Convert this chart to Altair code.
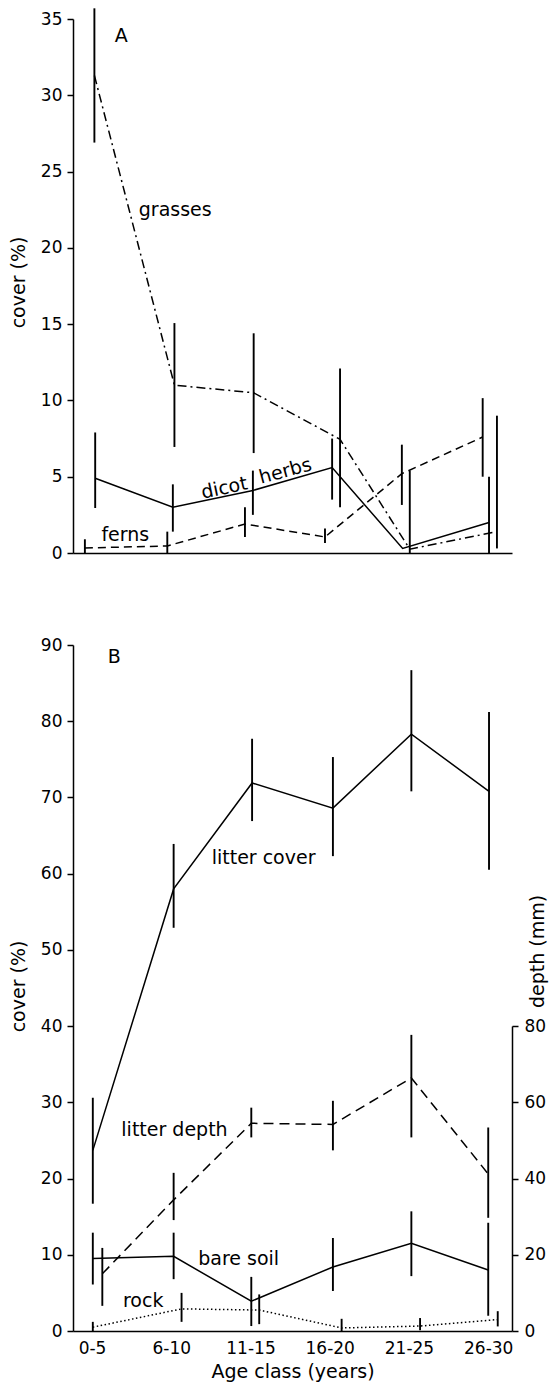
import altair as alt
import pandas as pd

ages = ["0-5", "6-10", "11-15", "16-20", "21-25", "26-30"]

# ---------------- Panel A : cover (%) ----------------
# x = position in age-class units (the points are drawn slightly staggered)
grass_x = [0.03, 1.04, 2.04, 3.13, 4.01, 5.11]
grass_mean = [31.3, 11.0, 10.5, 7.45, 0.25, 1.4]
grass_lo = [26.9, 6.95, 6.55, 3.0, 0.0, 0.3]
grass_hi = [35.7, 15.07, 14.4, 12.1, 5.4, 9.0]

dicot_x = [0.04, 1.02, 2.03, 3.03, 3.92, 5.01]
dicot_mean = [4.9, 3.0, 4.1, 5.6, 0.3, 2.0]
dicot_lo = [2.95, 1.4, 2.5, 3.5, 0.3, 0.0]
dicot_hi = [7.9, 4.5, 5.4, 7.5, 0.3, 5.0]

fern_x = [-0.09, 0.95, 1.93, 2.94, 3.91, 4.93]
fern_mean = [0.33, 0.46, 1.9, 1.05, 5.2, 7.6]
fern_lo = [0.0, 0.0, 1.05, 0.65, 3.15, 5.0]
fern_hi = [0.9, 1.4, 3.0, 1.6, 7.1, 10.15]

# ---------------- Panel B : cover (%) and litter depth (mm) ----------------
litter_x = [0.01, 1.03, 2.02, 3.04, 4.03, 5.01]
litter_mean = [23.7, 58.0, 71.9, 68.6, 78.3, 70.8]
litter_lo = [16.7, 52.9, 66.9, 62.3, 70.8, 60.5]
litter_hi = [30.6, 63.9, 77.7, 75.3, 86.7, 81.2]

depth_x = [0.13, 1.03, 2.01, 3.04, 4.03, 5.0]
depth_mean = [15.0, 34.4, 54.5, 54.2, 66.4, 41.2]
depth_lo = [6.6, 29.1, 50.8, 47.4, 50.8, 29.7]
depth_hi = [21.8, 41.5, 58.6, 60.4, 77.7, 53.4]

soil_x = [0.01, 1.03, 2.01, 3.04, 4.03, 5.0]
soil_mean = [9.5, 9.8, 3.9, 8.4, 11.5, 8.0]
soil_lo = [6.1, 6.8, 0.65, 5.25, 7.2, 2.0]
soil_hi = [12.9, 12.9, 7.1, 12.2, 15.7, 14.2]

rock_x = [0.01, 1.13, 2.11, 3.15, 4.14, 5.12]
rock_mean = [0.5, 2.9, 2.75, 0.4, 0.65, 1.5]
rock_lo = [0.0, 1.2, 0.9, 0.0, 0.1, 0.6]
rock_hi = [1.2, 5.0, 4.8, 1.6, 1.7, 2.6]

# annotation texts with their data positions
labA_text = ["A", "grasses", "ferns", "dicot", "herbs"]
labA_x = [0.37, 0.59, 0.42, 1.67, 2.44]
labA_y = [33.9, 22.5, 1.2, 4.26, 5.37]

labB_text = ["B", "litter cover", "litter depth", "bare soil", "rock"]
labB_x = [0.28, 1.51, 0.37, 1.34, 0.39]
labB_y = [88.4, 62.1, 26.4, 9.45, 3.9]

# ---------------- layout ----------------
W = 439
HA = 534
HB = 686
FONT = "DejaVu Sans"

xscale = alt.Scale(domain=[-0.24, 5.30], nice=False, zero=False)
label_expr = "[" + ",".join("'" + a + "'" for a in ages) + "][datum.value]"

common_axis = dict(grid=False, domainColor="black", domainWidth=1.5, tickColor="black",
                   tickWidth=1.5, labelColor="black", titleColor="black",
                   labelFont=FONT, titleFont=FONT, titleFontWeight="normal")


def xenc(field, bottom):
    if bottom:
        ax = alt.Axis(values=list(range(len(ages))), labelExpr=label_expr, ticks=False,
                      labelFontSize=17, labelPadding=9, titleFontSize=19, titleY=40,
                      titleBaseline="middle", **common_axis)
        return alt.X(field + ":Q", scale=xscale, axis=ax, title="Age class (years)")
    ax = alt.Axis(labels=False, ticks=False, **common_axis)
    return alt.X(field + ":Q", scale=xscale, axis=ax, title=None)


def ycover(field, top, vals, H, titleY):
    ax = alt.Axis(values=vals, tickSize=6, labelPadding=5, labelFontSize=17,
                  titleFontSize=19, titleAngle=270, titleX=-54.5, titleY=titleY,
                  titleAlign="center", titleBaseline="middle", **common_axis)
    return alt.Y(field + ":Q", scale=alt.Scale(domain=[0, top], nice=False),
                 axis=ax, title="cover (%)")


def series(xs, means, los, his, dash, bottom, yfun):
    df = pd.DataFrame({"x": xs, "mean": means, "lo": los, "hi": his})
    base = alt.Chart(df)
    kw = dict(color="black", strokeWidth=1.5)
    if dash:
        kw["strokeDash"] = dash
    line = base.mark_line(**kw).encode(x=xenc("x", bottom), y=yfun("mean"))
    bars = base.mark_rule(color="black", strokeWidth=1.9).encode(
        x=xenc("x", bottom), y=yfun("lo"), y2=alt.Y2("hi:Q"))
    return [line, bars]


def labels(texts, xs, ys, bottom, yfun, angles, aligns):
    out = []
    for t, x, y, a, al in zip(texts, xs, ys, angles, aligns):
        df = pd.DataFrame({"x": [x], "y": [y], "t": [t]})
        out.append(alt.Chart(df).mark_text(font=FONT, fontSize=19, color="black", angle=a,
                                           align=al, baseline="middle").encode(
            x=xenc("x", bottom), y=yfun("y"), text="t:N"))
    return out


yA = lambda f: ycover(f, 35, list(range(0, 36, 5)), HA, 263)
yB = lambda f: ycover(f, 90, list(range(0, 91, 10)), HB, 341)

layersA = []
layersA += series(grass_x, grass_mean, grass_lo, grass_hi, [9, 4, 2, 4], False, yA)
layersA += series(dicot_x, dicot_mean, dicot_lo, dicot_hi, None, False, yA)
layersA += series(fern_x, fern_mean, fern_lo, fern_hi, [8, 5], False, yA)
layersA += labels(labA_text, labA_x, labA_y, False, yA, [0, 0, 0, 348, 345],
                  ["center", "left", "center", "center", "center"])
panelA = alt.layer(*layersA).properties(width=W, height=HA)

coverB = []
coverB += series(litter_x, litter_mean, litter_lo, litter_hi, None, True, yB)
coverB += series(soil_x, soil_mean, soil_lo, soil_hi, None, True, yB)
coverB += series(rock_x, rock_mean, rock_lo, rock_hi, [1.5, 2.5], True, yB)
coverB += labels(labB_text, labB_x, labB_y, True, yB, [0, 0, 0, 0, 0],
                 ["center", "left", "left", "left", "left"])


def ydepth(field):
    ax = alt.Axis(orient="right", values=[0, 20, 40, 60, 80], tickSize=6, labelPadding=6,
                  labelFontSize=17, titleFontSize=19, titleAngle=270, titleX=25, titleY=306,
                  titleAlign="center", titleBaseline="middle", **common_axis)
    return alt.Y(field + ":Q", scale=alt.Scale(domain=[0, 80], range=[HB, HB - 80 * HB / 180],
                                               nice=False),
                 axis=ax, title="depth (mm)")


depthB = series(depth_x, depth_mean, depth_lo, depth_hi, [10, 6], True, ydepth)

panelB = alt.layer(alt.layer(*coverB), alt.layer(*depthB)).resolve_scale(
    y="independent").properties(width=W, height=HB)

chart = alt.vconcat(panelA, panelB, spacing=75).properties(
    padding={"left": 9, "top": 7, "right": 5, "bottom": 5}
).configure(font=FONT).configure_view(strokeWidth=0)

chart.save("out.html", embed_options={"renderer": "svg", "actions": False})
